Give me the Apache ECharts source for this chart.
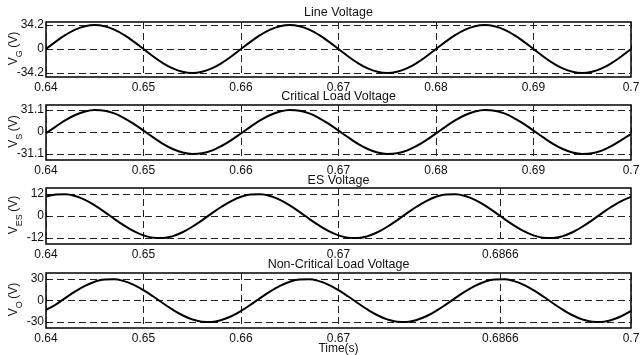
<!DOCTYPE html>
<html>
<head>
<meta charset="utf-8">
<script src="https://cdn.jsdelivr.net/npm/echarts@6/dist/echarts.min.js"></script>
<style>
html, body { margin: 0; padding: 0; background: #fff; }
#chart { width: 640px; height: 355px; }
</style>
</head>
<body>
<div id="chart"></div>
<script>
// sample times (s)
const time = [
  0.640, 0.641, 0.642, 0.643, 0.644, 0.645, 0.646, 0.647, 0.648, 0.649,
  0.650, 0.651, 0.652, 0.653, 0.654, 0.655, 0.656, 0.657, 0.658, 0.659,
  0.660, 0.661, 0.662, 0.663, 0.664, 0.665, 0.666, 0.667, 0.668, 0.669,
  0.670, 0.671, 0.672, 0.673, 0.674, 0.675, 0.676, 0.677, 0.678, 0.679,
  0.680, 0.681, 0.682, 0.683, 0.684, 0.685, 0.686, 0.687, 0.688, 0.689,
  0.690, 0.691, 0.692, 0.693, 0.694, 0.695, 0.696, 0.697, 0.698, 0.699,
  0.700
]

const lineVoltage = [
  0, 10.6, 20.1, 27.7, 32.5, 34.2, 32.5, 27.7, 20.1, 10.6,
  0, -10.6, -20.1, -27.7, -32.5, -34.2, -32.5, -27.7, -20.1, -10.6,
  0, 10.6, 20.1, 27.7, 32.5, 34.2, 32.5, 27.7, 20.1, 10.6,
  0, -10.6, -20.1, -27.7, -32.5, -34.2, -32.5, -27.7, -20.1, -10.6,
  0, 10.6, 20.1, 27.7, 32.5, 34.2, 32.5, 27.7, 20.1, 10.6,
  0, -10.6, -20.1, -27.7, -32.5, -34.2, -32.5, -27.7, -20.1, -10.6,
  0
]

const criticalVoltage = [
  -1.8, 7.7, 16.7, 24.0, 28.9, 31.0, 30.1, 26.3, 19.8, 11.5,
  2.0, -7.7, -16.7, -24.0, -28.9, -31.0, -30.1, -26.3, -19.8, -11.5,
  -2.0, 7.7, 16.7, 24.0, 28.9, 31.0, 30.1, 26.3, 19.8, 11.5,
  2.0, -7.7, -16.7, -24.0, -28.9, -31.0, -30.1, -26.3, -19.8, -11.5,
  -2.0, 7.7, 16.7, 24.0, 28.9, 31.0, 30.1, 26.3, 19.8, 11.5,
  2.0, -7.7, -16.7, -24.0, -28.9, -31.0, -30.1, -26.3, -19.8, -11.5,
  -3.0
]

const esVoltage = [
  10.6, 11.8, 11.9, 10.9, 8.8, 5.8, 2.3, -1.5, -5.1, -8.2,
  -10.5, -11.8, -11.9, -10.9, -8.8, -5.8, -2.3, 1.5, 5.1, 8.2,
  10.5, 11.8, 11.9, 10.9, 8.8, 5.8, 2.3, -1.5, -5.1, -8.2,
  -10.5, -11.8, -11.9, -10.9, -8.8, -5.8, -2.3, 1.5, 5.1, 8.2,
  10.5, 11.8, 11.9, 10.9, 8.8, 5.8, 2.3, -1.5, -5.1, -8.2,
  -10.5, -11.8, -11.9, -10.9, -8.8, -5.8, -2.3, 1.5, 5.1, 8.2,
  10.5
]

const nonCriticalVoltage = [
  -13.0, -5.6, 3.8, 12.8, 20.5, 26.3, 29.5, 29.8, 27.1, 21.9,
  14.5, 5.6, -3.8, -12.8, -20.5, -26.3, -29.5, -29.8, -27.1, -21.9,
  -14.5, -5.6, 3.8, 12.8, 20.5, 26.3, 29.5, 29.8, 27.1, 21.9,
  14.5, 5.6, -3.8, -12.8, -20.5, -26.3, -29.5, -29.8, -27.1, -21.9,
  -14.5, -5.6, 3.8, 12.8, 20.5, 26.3, 29.5, 29.8, 27.1, 21.9,
  14.5, 5.6, -3.8, -12.8, -20.5, -26.3, -29.5, -29.8, -27.1, -21.9,
  -14.5
]

const titles = ['Line Voltage', 'Critical Load Voltage', 'ES Voltage', 'Non-Critical Load Voltage']
const subscripts = ['G', 'S', 'ES', 'O']

const xTicksFull = [0.64, 0.65, 0.66, 0.67, 0.68, 0.69, 0.7]
const xTicksES = [0.64, 0.65, 0.67, 0.6866]
const xTicksNC = [0.64, 0.65, 0.66, 0.67, 0.6866, 0.7]
const yTicksLine = [-34.2, 0, 34.2]
const yTicksCritical = [-31.1, 0, 31.1]
const yTicksES = [-12, 0, 12]
const yTicksNC = [-30, 0, 30]

const FONT = "'Liberation Sans', Arial, sans-serif"
const series = [lineVoltage, criticalVoltage, esVoltage, nonCriticalVoltage]
const xTicks = [xTicksFull, xTicksFull, xTicksES, xTicksNC]
const yTicks = [yTicksLine, yTicksCritical, yTicksES, yTicksNC]
const yRanges = [[-39.9, 38.5], [-39.6, 38.2], [-15.2, 15.3], [-38.3, 38.4]]
const gridTops = [22, 105, 188, 273]
const gridHeights = [55, 55, 56, 55]
const titleY = [13, 97, 181, 265]

const dash = { color: '#222', width: 1, type: [7, 4] }

// text widths for the rotated V_x (V) labels
const measure = document.createElement('canvas').getContext('2d')
function textWidth(text, size) {
  measure.font = size + 'px ' + FONT
  return measure.measureText(text).width
}

function yLabel(sub, i) {
  const wV = textWidth('V', 12)
  const wS = textWidth(sub, 9)
  const wP = textWidth('(V)', 12)
  const gap = 2.5
  const x0 = -(wV + wS + gap + wP) / 2
  const base = { fill: '#111', verticalAlign: 'middle', align: 'left' }
  return {
    type: 'group',
    x: 13.5,
    y: gridTops[i] + gridHeights[i] / 2 - 1,
    rotation: Math.PI / 2,
    children: [
      { type: 'text', x: x0, y: 0, style: Object.assign({ text: 'V', font: '12px ' + FONT }, base) },
      { type: 'text', x: x0 + wV, y: 6, style: Object.assign({ text: sub, font: '9px ' + FONT }, base) },
      { type: 'text', x: x0 + wV + wS + gap, y: 0, style: Object.assign({ text: '(V)', font: '12px ' + FONT }, base) }
    ]
  }
}

const option = {
  animation: false,
  textStyle: { fontFamily: FONT },
  grid: gridTops.map((top, i) => ({
    left: 46,
    right: 9,
    top: top,
    height: gridHeights[i],
    containLabel: false,
    outerBoundsMode: 'none',
    show: true,
    borderColor: '#000',
    borderWidth: 1.5,
    backgroundColor: 'transparent'
  })),
  xAxis: xTicks.map((ticks, i) => ({
    type: 'value',
    gridIndex: i,
    min: 0.64,
    max: 0.7,
    axisLine: { show: false },
    axisTick: { show: true, inside: true, length: 3, customValues: ticks, lineStyle: { color: '#000' } },
    axisLabel: {
      customValues: ticks,
      formatter: v => String(v),
      color: '#111',
      fontSize: 12,
      margin: 5,
      fontFamily: FONT
    },
    splitLine: { show: true, lineStyle: dash },
    name: i === 3 ? 'Time(s)' : '',
    nameLocation: 'middle',
    nameMoveOverlap: false,
    nameGap: 15,
    nameTextStyle: { color: '#111', fontSize: 12, fontFamily: FONT }
  })),
  yAxis: yTicks.map((ticks, i) => ({
    type: 'value',
    gridIndex: i,
    min: yRanges[i][0],
    max: yRanges[i][1],
    axisLine: { show: false },
    axisTick: { show: true, inside: true, length: 3, customValues: ticks, lineStyle: { color: '#000' } },
    axisLabel: {
      customValues: ticks,
      formatter: v => String(v),
      color: '#111',
      fontSize: 12,
      margin: 2,
      fontFamily: FONT
    },
    splitLine: { show: true, lineStyle: dash }
  })),
  series: series.map((vals, i) => ({
    type: 'line',
    xAxisIndex: i,
    yAxisIndex: i,
    data: time.map((t, k) => [t, vals[k]]),
    showSymbol: false,
    smooth: 0.4,
    lineStyle: { color: '#000', width: 2 },
    z: 5
  })),
  graphic: titles.map((text, i) => ({
    type: 'text',
    x: 338.5,
    y: titleY[i],
    style: {
      text: text,
      align: 'center',
      verticalAlign: 'middle',
      fill: '#111',
      font: '12.5px ' + FONT
    }
  })).concat(subscripts.map(yLabel))
}

const chart = echarts.init(document.getElementById('chart'))
chart.setOption(option)
</script>
</body>
</html>
